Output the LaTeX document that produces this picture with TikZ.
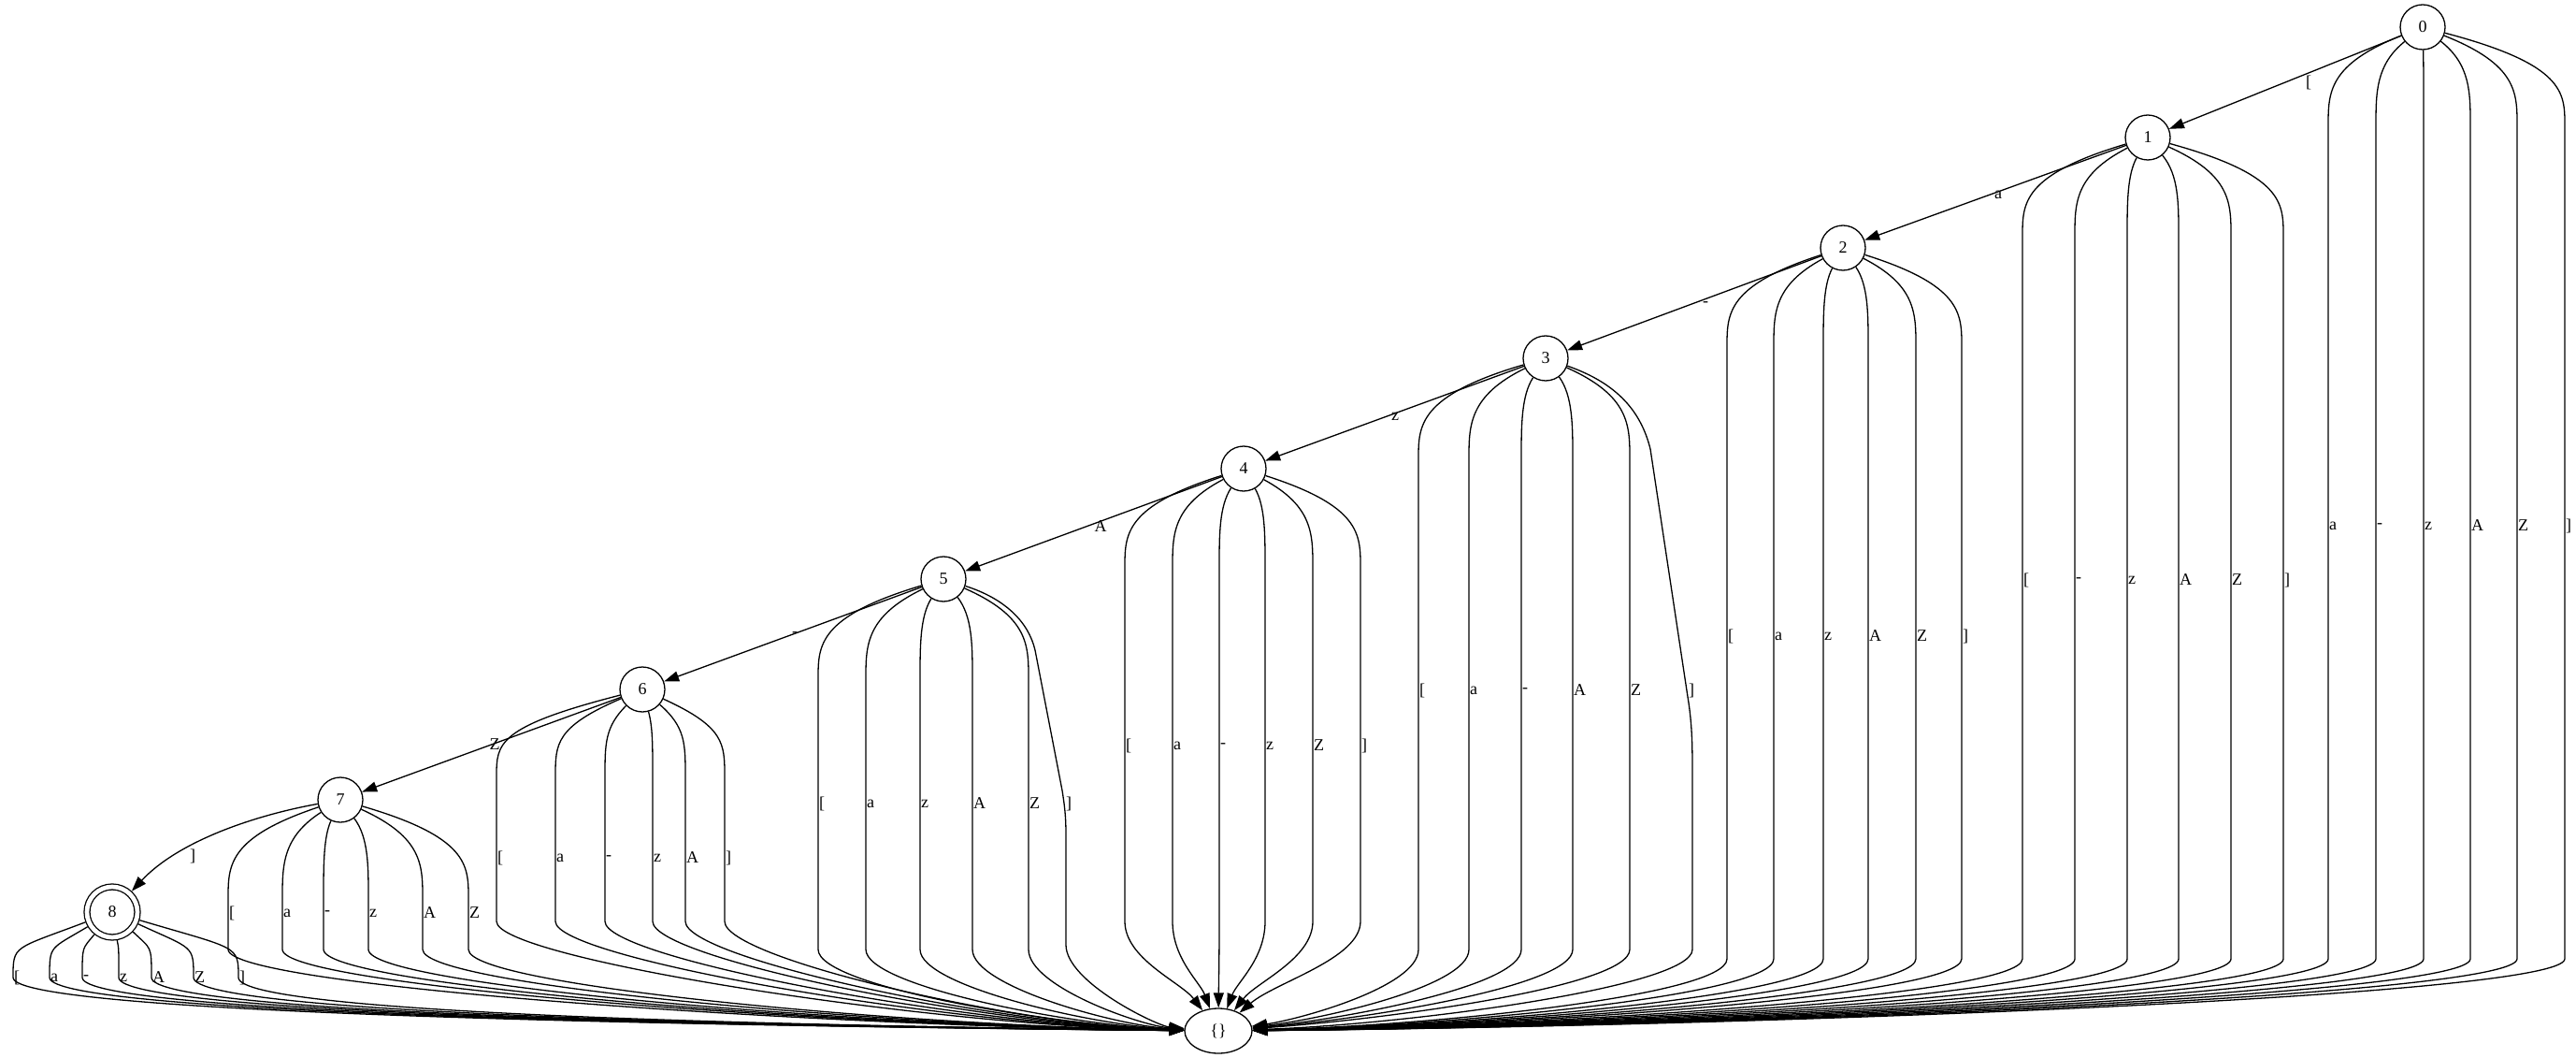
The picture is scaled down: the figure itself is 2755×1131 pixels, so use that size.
\documentclass[tikz,border=0pt]{standalone}
\usepackage{fontspec}
\setmainfont{Liberation Serif}
\usetikzlibrary{arrows.meta,shapes.geometric}
\newcommand\fanedge[8]{%
  \draw[fan] (#1) .. controls (#3,{#2+40}) and (#3,{#4-35}) .. (#3,#4) -- (#3,#5) .. controls (#3,{#5+40}) and ({1303+0.4*(#3-1303)},#6) .. (E);
  \node[lab] (L#1x#3) at (#3,#8) {#7};
}
\begin{document}
\begin{tikzpicture}[x=1pt,y=-1pt,
  txt/.style={font=\fontsize{18}{20}\selectfont},
  st/.style={circle,draw,line width=1.3pt,minimum size=48pt,inner sep=0pt,txt},
  fin/.style={circle,draw,line width=1.3pt,minimum size=54pt,inner sep=0pt,double,double distance=4.7pt,outer sep=3.6pt,txt},
  sink/.style={ellipse,draw,line width=1.3pt,minimum width=72pt,minimum height=48pt,inner sep=0pt,txt},
  tr/.style={draw,line width=1.3pt,-{Triangle[length=16pt,width=11pt]}},
  fan/.style={tr},
  lab/.style={txt,inner sep=1pt,anchor=west},
  tlab/.style={txt,inner sep=1pt}]
\useasboundingbox (0,0) rectangle (2755,1131);
\node[st] (n0) at (2591,29) {0};
\node[st] (n1) at (2297,147) {1};
\node[st] (n2) at (1971,265) {2};
\node[st] (n3) at (1653,383) {3};
\node[st] (n4) at (1330,501) {4};
\node[st] (n5) at (1009,619) {5};
\node[st] (n6) at (687,737) {6};
\node[st] (n7) at (364,855) {7};
\node[fin] (n8) at (120,975) {8};
\node[sink] (E) at (1303,1102) {\{\}};
% transitions
\draw[tr] (n0) -- (n1); \node[tlab] (t01) at (2469,88) {[};
\draw[tr] (n1) -- (n2); \node[tlab] (t12) at (2137,208) {a};
\draw[tr] (n2) -- (n3); \node[tlab] (t23) at (1824,325) {-};
\draw[tr] (n3) -- (n4); \node[tlab] (t34) at (1492,445) {z};
\draw[tr] (n4) -- (n5); \node[tlab] (t45) at (1177,563) {A};
\draw[tr] (n5) -- (n6); \node[tlab] (t56) at (850,678) {-};
\draw[tr] (n6) -- (n7); \node[tlab] (t67) at (529,796) {Z};
\draw[tr] (n7) .. controls (270,872) and (190,900) .. (n8); \node[tlab] (t78) at (206,915) {]};
% fans
\foreach \x/\l in {2490/a,2541/-,2592/z,2642/A,2692/Z,2743/{]}} {\fanedge{n0}{29}{\x}{134}{1025}{1097}{\l}{562}}
\foreach \x/\l in {2163/{[},2219/-,2275/z,2330/A,2386/Z,2442/{]}} {\fanedge{n1}{147}{\x}{252}{1025}{1097}{\l}{620}}
\foreach \x/\l in {1847/{[},1897/a,1950/z,1998/A,2049/Z,2098/{]}} {\fanedge{n2}{265}{\x}{370}{1025}{1097}{\l}{680}}
\foreach \x/\l in {1517/{[},1571/a,1627/-,1682/A,1743/Z} {\fanedge{n3}{383}{\x}{490}{1015}{1090}{\l}{738}}
\draw[fan] (n3) .. controls (1730,410) and (1755,440) .. (1765,480) -- (1805,745) .. controls (1810,775) and (1810,800) .. (1810,830) -- (1810,1015) .. controls (1810,1055) and (1506,1095) .. (E);
\node[lab] (Ln3x1805) at (1805,738) {]};
\foreach \x/\l in {1203/{[},1254/a,1304/-,1353/z,1404/Z,1455/{]}} {\fanedge{n4}{501}{\x}{606}{985}{1050}{\l}{797}}
\foreach \x/\l in {875/{[},926/a,984/z,1040/A,1100/Z} {\fanedge{n5}{619}{\x}{725}{1015}{1097}{\l}{859}}
\draw[fan] (n5) .. controls (1075,640) and (1100,665) .. (1107,695) -- (1136,845) .. controls (1140,870) and (1140,880) .. (1140,900) -- (1140,1010) .. controls (1140,1050) and (1238,1097) .. (E);
\node[lab] (Ln5x1139) at (1139,859) {]};
\foreach \x/\l in {531/{[},594/a,647/-,698/z,733/A,775/{]}} {\fanedge{n6}{737}{\x}{830}{985}{1097}{\l}{917}}
\foreach \x/\l in {244/{[},302/a,346/-,394/z,452/A,501/Z} {\fanedge{n7}{855}{\x}{960}{1015}{1097}{\l}{976}}
\foreach \x/\l in {14/{[},53/a,88/-,127/z,162/A,207/Z,255/{]}} {\fanedge{n8}{975}{\x}{1045}{1045}{1097}{\l}{1045}}
\end{tikzpicture}
\end{document}
